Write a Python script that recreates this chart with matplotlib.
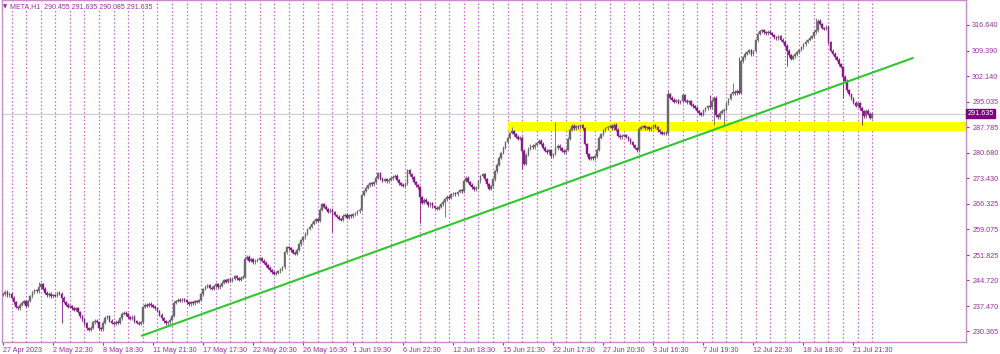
import matplotlib
matplotlib.use("Agg")
import matplotlib.pyplot as plt
import matplotlib.transforms as mtransforms
from matplotlib.patches import Rectangle

# ---------------- data ----------------
header_symbol = "META,H1"
header_ohlc = ["290.455", "291.635", "290.085", "291.635"]

x_labels = ["27 Apr 2023", "2 May 22:30", "8 May 18:30", "11 May 21:30", "17 May 17:30",
            "22 May 20:30", "26 May 16:30", "1 Jun 19:30", "6 Jun 22:30", "12 Jun 18:30",
            "15 Jun 21:30", "22 Jun 17:30", "27 Jun 20:30", "3 Jul 16:30", "7 Jul 19:30",
            "12 Jul 22:30", "18 Jul 18:30", "21 Jul 21:30"]

y_ticks = [230.365, 237.470, 244.720, 251.825, 259.075, 266.325, 273.430,
           280.680, 287.785, 295.035, 302.140, 309.390, 316.640]

# hourly closes, one list per trading day (27 Apr .. 24 Jul, then first bar of 25 Jul)
daily_closes = [
    [240.8, 241.5, 240.5, 240.9],
    [239.8, 238.5, 237.2, 236.9, 237.8, 238.4, 238.9],
    [237.6, 238.9, 240.2, 241.3, 242.0, 241.6, 242.8],
    [243.6, 242.4, 241.2, 240.5, 240.9, 240.2, 240.6],
    [240.4, 241.2, 241.0, 239.8, 238.6, 237.9, 237.3],
    [237.5, 236.8, 236.4, 236.9, 235.8, 234.6, 233.8],
    [232.6, 231.2, 230.8, 231.4, 232.9, 233.4, 233.0],
    [231.2, 230.9, 232.8, 234.2, 234.6, 233.4, 232.8],
    [232.4, 233.1, 232.8, 234.0, 235.3, 235.6, 235.2],
    [234.4, 233.9, 234.5, 233.2, 232.8, 232.4, 232.9],
    [237.2, 237.9, 237.6, 238.1, 237.7, 237.3, 236.8],
    [236.1, 235.0, 234.0, 233.2, 232.6, 232.9, 233.6],
    [234.8, 238.4, 238.9, 239.3, 239.0, 239.4, 239.1],
    [238.5, 238.0, 238.6, 238.3, 238.9, 238.6, 239.2],
    [240.8, 242.3, 242.9, 243.4, 242.6, 242.4, 243.1],
    [243.6, 242.8, 243.2, 244.0, 244.8, 244.3, 245.1],
    [244.6, 245.2, 245.9, 245.3, 244.8, 245.5, 245.7],
    [250.8, 251.4, 250.2, 250.6, 249.8, 250.3, 250.5],
    [250.9, 250.2, 249.7, 248.9, 248.3, 247.5, 247.0],
    [246.5, 246.9, 247.3, 247.8, 248.4, 252.6, 254.1],
    [253.8, 253.2, 252.5, 252.2, 253.4, 254.9, 256.0],
    [256.8, 257.9, 259.2, 259.8, 260.7, 261.3, 261.9],
    [261.5, 264.6, 266.2, 265.4, 264.8, 264.1, 264.6],
    [263.9, 263.1, 262.6, 262.0, 261.8, 262.9, 263.2],
    [262.4, 263.0, 262.7, 263.3, 263.6, 264.2, 264.6],
    [268.8, 269.9, 270.8, 271.5, 272.1, 271.8, 272.3],
    [273.6, 274.9, 273.4, 272.8, 273.2, 272.6, 273.1],
    [273.5, 273.9, 274.2, 273.0, 272.1, 271.6, 271.4],
    [271.9, 275.8, 274.6, 273.8, 272.4, 271.5, 270.9],
    [268.2, 266.6, 267.4, 266.8, 265.8, 266.4, 265.6],
    [265.2, 264.8, 265.4, 266.1, 266.9, 267.6, 268.3],
    [268.0, 268.9, 269.3, 269.0, 269.6, 270.1, 269.8],
    [272.8, 273.6, 272.4, 271.6, 270.9, 270.4, 270.8],
    [272.6, 274.1, 274.6, 273.2, 271.8, 270.5, 271.2],
    [273.2, 275.4, 277.3, 279.2, 280.6, 282.1, 283.6],
    [284.9, 286.2, 286.8, 285.9, 285.2, 284.6, 284.9],
    [281.2, 277.6, 280.1, 281.8, 282.6, 282.2, 282.9],
    [283.4, 284.0, 283.2, 282.1, 281.2, 280.8, 281.3],
    [279.6, 280.3, 281.9, 282.6, 281.9, 281.2, 280.8],
    [281.5, 284.6, 287.2, 288.3, 287.6, 288.1, 287.8],
    [288.4, 287.5, 283.1, 280.2, 278.9, 279.4, 279.1],
    [279.6, 281.5, 284.9, 285.8, 287.0, 287.5, 287.9],
    [288.3, 287.6, 288.5, 287.2, 285.4, 285.0, 285.5],
    [285.6, 285.1, 284.4, 283.6, 282.8, 282.0, 281.4],
    [287.4, 287.9, 288.2, 287.6, 287.8, 287.3, 287.7],
    [288.4, 287.9, 287.0, 286.4, 286.0, 286.3, 286.1],
    [297.2, 296.1, 295.6, 295.0, 295.4, 294.8, 295.2],
    [296.8, 295.3, 294.9, 295.2, 294.2, 293.7, 293.4],
    [292.4, 291.8, 291.4, 292.6, 293.2, 293.8, 293.5],
    [295.3, 296.1, 291.2, 290.6, 291.9, 292.5, 292.8],
    [294.6, 295.8, 297.2, 297.8, 297.4, 298.1, 297.6],
    [306.4, 307.6, 308.5, 308.9, 309.5, 308.4, 309.3],
    [312.3, 314.2, 314.9, 315.1, 314.6, 314.3, 314.7],
    [314.4, 313.8, 313.2, 312.9, 313.4, 312.5, 311.9],
    [310.8, 309.4, 308.1, 307.2, 307.8, 308.4, 308.9],
    [309.6, 310.4, 311.2, 311.9, 312.4, 313.1, 313.5],
    [314.6, 315.2, 317.8, 316.9, 315.8, 315.5, 316.2],
    [311.8, 309.4, 308.6, 307.5, 306.9, 305.6, 304.8],
    [302.1, 300.9, 298.2, 297.1, 296.0, 294.8, 293.9],
    [294.6, 293.2, 292.4, 290.9, 292.5, 291.6, 290.455],
    [291.635],
]
first_open = 240.6
last_open = 290.455
# notable long wicks (bar index -> price)
long_highs = {17: 244.3, 244: 288.0, 265: 289.4, 319: 298.3, 326: 297.6, 339: 297.0,
              350: 300.2, 353: 307.6, 390: 318.5, 417: 291.635}
long_lows = {28: 232.7, 158: 258.4, 200: 261.0, 212: 262.6, 249: 276.2, 341: 288.5,
             346: 288.6, 376: 305.0, 403: 296.1, 412: 288.5, 417: 290.085}

zone_low, zone_high = 286.78, 289.23
current_price = 291.635
trend_start = (66.2, 229.05)
trend_end = (436.8, 307.4)

# ---------------- build OHLC ----------------
closes = [c for day in daily_closes for c in day]
opens = [first_open] + closes[:-1]
opens[-1] = last_open
n = len(closes)
highs, lows = [], []
for i in range(n):
    hi = max(opens[i], closes[i]) + 0.4
    lo = min(opens[i], closes[i]) - 0.4
    hi = max(hi, long_highs.get(i, hi))
    lo = min(lo, long_lows.get(i, lo))
    highs.append(hi)
    lows.append(lo)

day_starts = []
idx = 0
for day in daily_closes:
    if idx > 0:
        day_starts.append(idx)
    idx += len(day)

# ---------------- draw ----------------
PURPLE = "#9a2ea0"
BORDER = "#c98bc9"
GRID = "#cc66cc"
UP = "#6a6a6a"
DOWN = "#8b168b"

fig = plt.figure(figsize=(10, 3.54), dpi=100)
ax = fig.add_axes([0.0015, 12 / 354, 0.9645, 342 / 354])
ax.set_xlim(-0.81, 462.0)
ax.set_ylim(227.35, 323.68)
ax.set_facecolor("white")

ax.vlines(day_starts, 227.35, 323.68, colors=GRID, linestyles=(0, (1.2, 1.8)), lw=0.9, zorder=1)

ax.add_patch(Rectangle((242.4, zone_low), 1000, zone_high - zone_low,
                       facecolor="#ffff00", edgecolor="none", zorder=2))
ax.axhline(current_price, color="#cfcfcf", lw=0.9, zorder=2)

for i in range(n):
    col = UP if closes[i] >= opens[i] else DOWN
    ax.vlines(i, lows[i], highs[i], colors=col, lw=0.6, zorder=3)
    bot = min(opens[i], closes[i])
    h = max(abs(closes[i] - opens[i]), 0.15)
    ax.add_patch(Rectangle((i - 0.4, bot), 0.8, h, facecolor=col, edgecolor=col,
                           lw=0.3, zorder=4))

ax.plot([trend_start[0], trend_end[0]], [trend_start[1], trend_end[1]],
        color="#2ec82e", lw=1.5, zorder=5, solid_capstyle="butt")

for s in ax.spines.values():
    s.set_color(BORDER)
    s.set_linewidth(1.0)

tick_bars = list(range(0, 24 * len(x_labels), 24))
ax.set_xticks(tick_bars)
ax.set_xticklabels(x_labels, ha="left", fontsize=5.2, color=PURPLE, family="Liberation Sans")
ax.tick_params(axis="x", length=2.5, width=0.8, color=PURPLE, pad=1.2)

ax.yaxis.tick_right()
ax.set_yticks(y_ticks)
ax.set_yticklabels([f"{v:.3f}" for v in y_ticks], fontsize=5.2, color=PURPLE,
                   family="Liberation Sans")
ax.tick_params(axis="y", length=2.0, width=0.8, color=PURPLE, pad=2.5)

trans = mtransforms.blended_transform_factory(ax.transAxes, ax.transData)
ax.text(1.0015, current_price, f"{current_price:.3f}", transform=trans, fontsize=5.2,
        color="white", family="Liberation Sans", va="center", ha="left",
        bbox=dict(boxstyle="square,pad=0.15", facecolor="#800080", edgecolor="#800080"))

fig.text(0.003, 0.982, "\u25bc", fontsize=4, color=PURPLE, va="center", ha="left")
fig.text(0.010, 0.982, header_symbol + "  " + " ".join(header_ohlc), fontsize=5.0,
         color=PURPLE, va="center", ha="left", family="Liberation Sans",
         bbox=dict(boxstyle="square,pad=0.05", facecolor="white", edgecolor="none"))

fig.savefig("out.png", dpi=100, facecolor="white")
